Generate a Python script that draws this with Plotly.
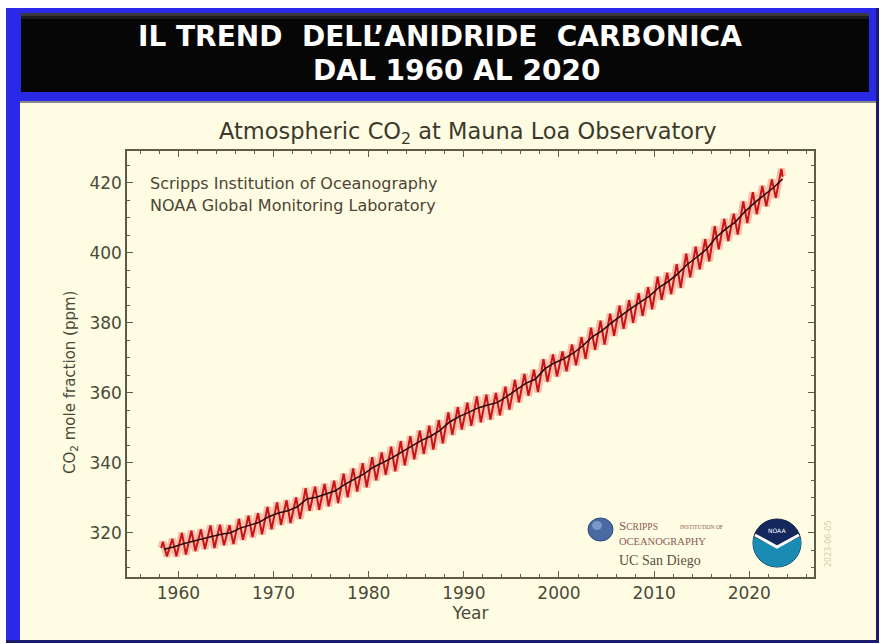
import plotly.graph_objects as go
import math

# ---------------- data ----------------
years = list(range(1958, 2024))
annual_mean = [315.3, 315.98, 316.91, 317.64, 318.45, 318.99, 319.62, 320.04, 321.37, 322.18,
               323.05, 324.62, 325.68, 326.32, 327.46, 329.68, 330.19, 331.12, 332.03, 333.84,
               335.41, 336.84, 338.76, 340.12, 341.48, 343.15, 344.87, 346.35, 347.61, 349.31,
               351.69, 353.20, 354.45, 355.70, 356.54, 357.21, 358.96, 360.97, 362.74, 363.88,
               366.84, 368.54, 369.71, 371.32, 373.45, 375.98, 377.70, 379.98, 382.09, 384.02,
               385.83, 387.64, 390.10, 391.85, 394.06, 396.74, 398.81, 401.01, 404.41, 406.76,
               408.72, 411.65, 414.21, 416.41, 418.53, 421.08]
may_peak = [317.5, 318.3, 320.0, 320.6, 321.0, 322.1, 322.3, 322.2, 324.0, 324.9,
            325.6, 327.4, 328.7, 329.3, 330.1, 332.8, 333.2, 334.0, 334.9, 336.9,
            338.4, 339.9, 341.6, 343.0, 344.6, 346.2, 347.6, 349.2, 350.6, 352.2,
            354.4, 355.9, 357.2, 359.0, 359.5, 360.0, 361.8, 363.7, 365.4, 366.6,
            369.6, 371.0, 371.8, 373.8, 375.9, 378.6, 380.6, 382.6, 384.9, 386.5,
            388.5, 390.2, 393.2, 394.3, 396.8, 399.8, 401.8, 403.9, 407.6, 409.7,
            411.2, 414.7, 417.3, 419.1, 421.0, 424.0]
oct_trough = [313.3, 313.3, 313.8, 314.8, 315.4, 315.7, 316.5, 316.8, 318.0, 318.8,
              319.6, 321.0, 322.3, 322.8, 324.0, 326.3, 326.6, 327.6, 328.5, 330.2,
              331.8, 333.0, 335.0, 336.6, 337.6, 339.3, 341.0, 342.6, 343.8, 345.6,
              348.0, 349.5, 350.6, 351.6, 352.4, 353.6, 355.2, 357.3, 359.2, 360.2,
              363.2, 364.7, 366.2, 367.9, 369.7, 372.3, 373.8, 376.3, 378.3, 380.0,
              382.0, 383.9, 386.6, 388.2, 390.0, 393.0, 395.3, 397.6, 401.0, 403.4,
              405.2, 408.5, 411.1, 413.3, 415.7]
first_month = (1958.2, 315.7)
last_month = (2023.5, 421.8)

y_ticks = [320, 340, 360, 380, 400, 420]
x_ticks = [1960, 1970, 1980, 1990, 2000, 2010, 2020]

# monthly zigzag built from the listed peaks/troughs
zz_x = [first_month[0]]
zz_y = [first_month[1]]
for i, yr in enumerate(years):
    zz_x.append(yr + 0.37)
    zz_y.append(may_peak[i])
    if i < len(oct_trough):
        zz_x.append(yr + 0.79)
        zz_y.append(oct_trough[i])
zz_x.append(last_month[0])
zz_y.append(last_month[1])
trend_x = [yr + 0.5 for yr in years]

# ---------------- layout helpers (pixel -> paper) ----------------
W, H = 880, 644
L, R, T, B = 127, 66, 151, 67
PW, PH = W - L - R, H - T - B


def px(x):
    return (x - L) / PW


def py(y):
    return (H - B - y) / PH


def rect(x0, y0, x1, y1, color, line=None):
    return dict(type="rect", xref="paper", yref="paper", x0=px(x0), x1=px(x1),
                y0=py(y1), y1=py(y0), fillcolor=color, layer="below",
                line=dict(width=0) if line is None else line)


shapes = [
    rect(6, 8, 879, 643, "#1a1a6e"),
    rect(6, 8, 876, 640, "#2a2ae6"),
    rect(21, 13, 869, 92, "#060606"),
    rect(21, 13, 869, 16, "#3a3a3a"),
    rect(21, 16, 869, 19, "#1c1c1c"),
    rect(20, 102, 876, 640, "#fefce2"),
    rect(20, 101, 876, 103, "#8a8a90"),
]

# Scripps sphere
shapes.append(dict(type="circle", xref="paper", yref="paper", x0=px(588), x1=px(613),
                   y0=py(541), y1=py(518), fillcolor="#4a6aa4", line=dict(color="#2e4a80", width=1)))
shapes.append(dict(type="circle", xref="paper", yref="paper", x0=px(592), x1=px(602),
                   y0=py(530), y1=py(521), fillcolor="rgba(170,200,235,0.5)", line=dict(width=0)))

# NOAA logo
cx, cy, rr = 777, 543, 24
shapes.append(dict(type="circle", xref="paper", yref="paper", x0=px(cx - rr), x1=px(cx + rr),
                   y0=py(cy + rr), y1=py(cy - rr), fillcolor="#14285e", line=dict(color="#0e1c48", width=1)))
pts = []
for k in range(0, 41):
    a = math.radians(165 + k * (375 - 165) / 40)
    pts.append((cx + rr * math.cos(a), cy - rr * math.sin(a)))
path = "M " + " L ".join(f"{px(a):.5f},{py(b):.5f}" for a, b in pts)
path += f" L {px(cx):.5f},{py(cy + 5):.5f} Z"
shapes.append(dict(type="path", xref="paper", yref="paper", path=path,
                   fillcolor="#1a8cb4", line=dict(width=0)))
wpath = (f"M {px(cx - 22):.5f},{py(cy - 8):.5f} L {px(cx):.5f},{py(cy + 4):.5f} "
         f"L {px(cx + 22):.5f},{py(cy - 8):.5f}")
shapes.append(dict(type="path", xref="paper", yref="paper", path=wpath,
                   line=dict(color="white", width=3)))

# ---------------- figure ----------------
fig = go.Figure()
fig.add_trace(go.Scatter(x=zz_x, y=zz_y, mode="lines", line=dict(color="rgba(228,60,60,0.30)", width=7),
                         hoverinfo="skip", showlegend=False))
fig.add_trace(go.Scatter(x=zz_x, y=zz_y, mode="lines", line=dict(color="#c81414", width=2),
                         name="Monthly", showlegend=False))
fig.add_trace(go.Scatter(x=trend_x, y=annual_mean, mode="lines", line=dict(color="#2a0808", width=1.5),
                         name="Trend", showlegend=False))

axis_color = "#5c5c48"
tick_font = dict(family="DejaVu Sans", size=17, color="#4a4a3a")

fig.update_xaxes(range=[1954.6, 2026.8], tickvals=x_ticks, showgrid=False, zeroline=False,
                 showline=True, linecolor=axis_color, linewidth=1.5, mirror="ticks",
                 ticks="inside", ticklen=6, tickwidth=1.3, tickcolor=axis_color, tickfont=tick_font,
                 minor=dict(dtick=2, ticks="inside", ticklen=3, tickcolor=axis_color, showgrid=False),
                 title=dict(text="Year", font=dict(family="DejaVu Sans", size=17, color="#4a4a3a"), standoff=2))
fig.update_yaxes(range=[307.4, 429.1], tickvals=y_ticks, showgrid=False, zeroline=False,
                 showline=True, linecolor=axis_color, linewidth=1.5, mirror="ticks",
                 ticks="inside", ticklen=6, tickwidth=1.3, tickcolor=axis_color, tickfont=tick_font,
                 minor=dict(dtick=5, ticks="inside", ticklen=3, tickcolor=axis_color, showgrid=False))

header_font = dict(family="DejaVu Sans", size=28, color="white", weight="bold")
logo_red = "#8c5a54"
annotations = [
    dict(text="IL TREND\u00a0\u00a0DELL\u2019ANIDRIDE\u00a0\u00a0CARBONICA", x=px(440), y=py(36),
         font=header_font),
    dict(text="DAL 1960 AL 2020", x=px(456), y=py(71), font=header_font),
    dict(text="Atmospheric CO<sub>2</sub> at Mauna Loa Observatory", x=px(468), y=py(133),
         font=dict(family="DejaVu Sans", size=22.5, color="#3c3a2c")),
    dict(text="CO<sub>2</sub> mole fraction (ppm)", x=px(70), y=py(383), textangle=-90,
         font=dict(family="DejaVu Sans", size=15, color="#4a4a3a")),
    dict(text="Scripps Institution of Oceanography", x=px(148), y=py(183), xanchor="left",
         font=dict(family="DejaVu Sans", size=16, color="#4e4436")),
    dict(text="NOAA Global Monitoring Laboratory", x=px(148), y=py(205), xanchor="left",
         font=dict(family="DejaVu Sans", size=16, color="#4e4436")),
    dict(text="S<span style='font-size:9.5px'>CRIPPS</span>", x=px(617), y=py(525), xanchor="left",
         font=dict(family="Liberation Serif", size=13, color=logo_red)),
    dict(text="INSTITUTION OF", x=px(678), y=py(527), xanchor="left",
         font=dict(family="Liberation Serif", size=5.5, color=logo_red)),
    dict(text="OCEANOGRAPHY", x=px(617), y=py(541), xanchor="left",
         font=dict(family="Liberation Serif", size=10.5, color=logo_red)),
    dict(text="UC San Diego", x=px(617), y=py(560), xanchor="left",
         font=dict(family="Liberation Serif", size=14, color="#5e5040")),
    dict(text="NOAA", x=px(777), y=py(530),
         font=dict(family="DejaVu Sans", size=6, color="white")),
    dict(text="2023-06-05", x=px(828), y=py(543), textangle=-90,
         font=dict(family="DejaVu Sans", size=8, color="#d4ccb2")),
]
for a in annotations:
    a.setdefault("xref", "paper")
    a.setdefault("yref", "paper")
    a.setdefault("showarrow", False)
    a.setdefault("xanchor", "center")
    a.setdefault("yanchor", "middle")

fig.update_layout(width=W, height=H, autosize=False,
                  margin=dict(l=L, r=R, t=T, b=B, pad=0),
                  paper_bgcolor="white", plot_bgcolor="rgba(0,0,0,0)",
                  shapes=shapes, annotations=annotations, showlegend=False)

fig.write_html("out.html")
